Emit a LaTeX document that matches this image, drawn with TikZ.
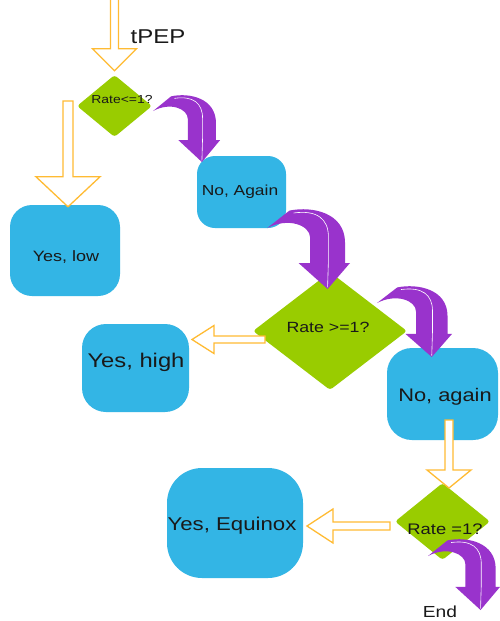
\documentclass[tikz,border=0pt]{standalone}
\usepackage{fontspec}
\setmainfont{Liberation Sans}[FakeStretch=1.2]
\usetikzlibrary{shapes.geometric,calc}
\definecolor{boxblue}{HTML}{33B5E5}
\definecolor{dgreen}{HTML}{99CC00}
\definecolor{purp}{HTML}{9933CC}
\definecolor{orng}{HTML}{FFBB33}
\newcommand\fs[1]{\fontsize{#1}{#1}\selectfont}
% hollow block arrow pointing down: start, tip, shaft half width, head half width, head length
\newcommand\hollowdown[5]{%
  \draw[hollow] let \p1=(#1), \p2=(#2) in
   ({\x2-#3pt},\y1) -- ({\x2-#3pt},{\y2+#5pt}) -- ({\x2-#4pt},{\y2+#5pt}) -- (\x2,\y2)
   -- ({\x2+#4pt},{\y2+#5pt}) -- ({\x2+#3pt},{\y2+#5pt}) -- ({\x2+#3pt},\y1) -- cycle;}
% hollow block arrow pointing left
\newcommand\hollowleft[5]{%
  \draw[hollow] let \p1=(#1), \p2=(#2) in
   (\x1,{\y2+#3pt}) -- ({\x2+#5pt},{\y2+#3pt}) -- ({\x2+#5pt},{\y2+#4pt}) -- (\x2,\y2)
   -- ({\x2+#5pt},{\y2-#4pt}) -- ({\x2+#5pt},{\y2-#3pt}) -- (\x1,{\y2-#3pt}) -- cycle;}
% curved purple arrow: left, top, width, height
\newcommand\purparc[4]{%
  \begin{scope}[shift={(#1,#2)},x=#3pt,y=-#4pt]
    \fill[purp] (0,0.24) -- (0.27,0.02) .. controls (0.55,-0.04) and (0.94,0.05) .. (0.94,0.42)
      -- (0.94,0.675) -- (1,0.675) -- (0.73,1) -- (0.38,0.675) -- (0.52,0.675) -- (0.52,0.36)
      .. controls (0.52,0.2) and (0.25,0.1) .. (0,0.24) -- cycle;
    \draw[white, line width=0.6pt] (0.32,0.05) .. controls (0.6,0.01) and (0.74,0.12) .. (0.74,0.35)
      -- (0.74,0.64) -- (0.73,0.98);
  \end{scope}}
\begin{document}
\begin{tikzpicture}[x=1pt,y=-1pt,
  box/.style={fill=boxblue, draw=none, inner sep=0pt, rounded corners=#1},
  dia/.style={diamond, fill=dgreen, draw=none, inner sep=0pt, rounded corners=3pt},
  txt/.style={inner sep=0pt, text=black!90},
  hollow/.style={draw=orng, fill=white, line width=1.3pt, line join=miter}]
\useasboundingbox (0,0) rectangle (500,621);
\fill[white] (0,0) rectangle (500,621);

% boxes
\node[box=22pt, minimum width=110pt, minimum height=91pt] (low) at (65,250.5) {};
\node[box=18pt, minimum width=89pt, minimum height=72pt] (again1) at (241.5,192) {};
\node[box=24pt, minimum width=107pt, minimum height=88pt] (high) at (135.5,368) {};
\node[box=25pt, minimum width=111pt, minimum height=92pt] (again2) at (442.5,394) {};
\node[box=35pt, minimum width=136pt, minimum height=110pt] (equinox) at (235,523) {};

% diamonds
\node[dia, minimum width=75pt, minimum height=62pt] (d1) at (114.5,106) {};
\node[dia, minimum width=154pt, minimum height=118pt] (d2) at (330,331) {};
\node[dia, minimum width=95pt, minimum height=77pt] (d3) at (442.5,521.5) {};

% texts
\node[txt, font=\fs{20}] (tpep) at (158,37) {tPEP};
\node[txt, font=\fs{11.6}] (d1t) at (122,100) {Rate<=1?};
\node[txt, font=\fs{14.5}] (again1t) at (240,192) {No, Again};
\node[txt, font=\fs{15}] (lowt) at (66,257.5) {Yes, low};
\node[txt, font=\fs{19.8}] (hight) at (136,362) {Yes, high};
\node[txt, font=\fs{14.8}] (d2t) at (328,327) {Rate >=1?};
\node[txt, font=\fs{18.2}] (again2t) at (445,397) {No, again};
\node[txt, font=\fs{18.5}] (equinoxt) at (232,526) {Yes, Equinox};
\node[txt, font=\fs{15.3}] (d3t) at (445,529) {Rate =1?};
\node[txt, font=\fs{16}] (endt) at (440,612) {End};

% hollow orange arrows
\coordinate (a1s) at (115,-3);
\coordinate (a1t) at ([yshift=4pt]d1.north);
\hollowdown{a1s}{a1t}{4}{22}{22}
\coordinate (a2s) at (68,101);
\coordinate (a2t) at ([xshift=3pt,yshift=-2pt]low.north);
\hollowdown{a2s}{a2t}{5}{32}{30}
\coordinate (a3s) at (265,339.5);
\coordinate (a3t) at (192,339.5);
\hollowleft{a3s}{a3t}{3.5}{14}{22}
\coordinate (a4s) at (449,420);
\coordinate (a4t) at (449,488);
\hollowdown{a4s}{a4t}{4}{22}{18}
\coordinate (a5s) at (390,526);
\coordinate (a5t) at (307,526);
\hollowleft{a5s}{a5t}{4}{17}{26}

% purple curved arrows
\purparc{153}{95}{67}{67}
\purparc{267}{209}{83}{80}
\purparc{377}{286}{75}{71}
\purparc{428}{539}{72}{71}
\end{tikzpicture}
\end{document}
